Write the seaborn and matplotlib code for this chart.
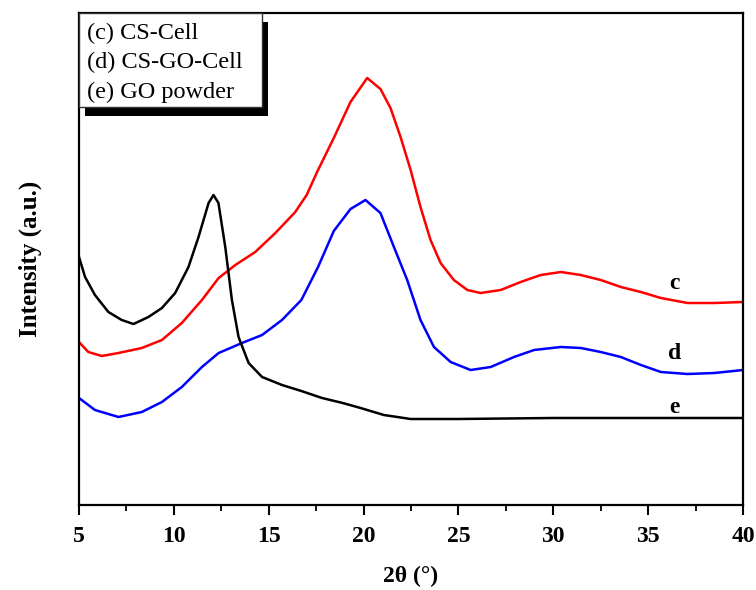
import numpy as np
import pandas as pd
import matplotlib
matplotlib.use("Agg")
import matplotlib.pyplot as plt
from matplotlib.patches import Rectangle
from matplotlib.ticker import MultipleLocator
import seaborn as sns

# ---- data (2theta in degrees, intensity in a.u.) ----
theta_c = [5.0, 5.49, 6.2, 7.08, 8.31, 9.37, 10.42, 11.48, 12.36, 13.24, 14.29,
           15.35, 16.4, 17.0, 17.55, 18.43, 19.31, 20.19, 20.89, 21.42,
           21.95, 22.48, 23.0, 23.53, 24.06, 24.76, 25.47, 26.17, 27.23, 28.28,
           29.34, 30.4, 31.45, 32.5, 33.56, 34.62, 35.67, 37.08, 38.49, 40.0]
int_c = [163, 153, 149, 152, 157, 165, 182, 205, 227, 240, 253,
         272, 293, 310, 333, 367, 403, 427, 416, 397,
         368, 335, 298, 265, 242, 225, 215, 212, 215, 223,
         230, 233, 230, 225, 218, 213, 207, 202, 202, 203]

theta_d = [5.0, 5.84, 7.08, 8.31, 9.37, 10.42, 11.48, 12.36, 13.59, 14.65, 15.7,
           16.72, 17.6, 18.43, 19.31, 20.1, 20.89, 21.6, 22.3, 23.0, 23.71,
           24.59, 25.64, 26.7, 27.93, 28.99, 30.4, 31.45, 32.5, 33.56, 34.62,
           35.67, 37.08, 38.49, 40.0]
int_d = [107, 95, 88, 93, 103, 118, 138, 152, 162, 170, 185,
         205, 238, 274, 296, 305, 292, 258, 225, 185, 158,
         143, 135, 138, 148, 155, 158, 157, 153, 148, 140,
         133, 131, 132, 135]

theta_e = [5.0, 5.32, 5.84, 6.55, 7.25, 7.87, 8.66, 9.37, 10.07, 10.77, 11.3,
           11.83, 12.09, 12.35, 12.71, 13.06, 13.41, 13.94, 14.65, 15.7, 16.72,
           17.81, 18.9, 19.84, 21.07, 22.48, 25.0, 30.0, 35.0, 40.0]
int_e = [248, 228, 210, 193, 185, 181, 188, 197, 212, 238, 268,
         302, 310, 302, 258, 205, 168, 142, 128, 120, 114,
         107, 102, 97, 90, 86, 86, 87, 87, 87]

legend_labels = ["(c) CS-Cell", "(d) CS-GO-Cell", "(e) GO powder"]
curve_tags = ["c", "d", "e"]
tag_theta = 36.4
tag_int = [222, 152, 98]
colors = ["#ff0000", "#0000ff", "#000000"]

x_ticks = [5, 10, 15, 20, 25, 30, 35, 40]

# ---- figure ----
sns.set_theme(style="ticks")
plt.rcParams["font.family"] = ["Liberation Serif", "DejaVu Serif"]
plt.rcParams["text.color"] = "black"
plt.rcParams["axes.labelcolor"] = "black"
plt.rcParams["xtick.color"] = "black"
plt.rcParams["ytick.color"] = "black"

fig = plt.figure(figsize=(7.56, 5.90), dpi=100)
ax = fig.add_axes([79 / 756, 1 - 505 / 590, 664 / 756, 492 / 590])

series = [(theta_c, int_c), (theta_d, int_d), (theta_e, int_e)]
for (tx, ty), col in zip(series, colors):
    df = pd.DataFrame({"theta": tx, "intensity": ty})
    sns.lineplot(data=df, x="theta", y="intensity", color=col, lw=1.8,
                 ax=ax, sort=False, estimator=None)

ax.set_xlim(5, 40)
ax.set_ylim(0, 492)
ax.set_xticks(x_ticks)
ax.set_xticklabels([str(t) for t in x_ticks], fontsize=17, fontweight="bold",
                   color="black")
ax.xaxis.set_minor_locator(MultipleLocator(2.5))
ax.set_yticks([])
ax.tick_params(axis="x", which="major", direction="out", length=7, width=1.5,
               pad=8, color="black")
ax.tick_params(axis="x", which="minor", direction="out", length=4.5, width=1.3,
               color="black")
for s in ax.spines.values():
    s.set_linewidth(1.6)
    s.set_color("black")

ax.set_xlabel("2θ (°)", fontsize=17, fontweight="bold", labelpad=14,
              color="black")
ax.set_ylabel("Intensity (a.u.)", fontsize=18, fontweight="bold", labelpad=27,
              color="black")

# curve tags
for tag, yv in zip(curve_tags, tag_int):
    ax.text(tag_theta, yv, tag, fontsize=17, fontweight="bold",
            ha="center", va="center", color="black")

# legend box with hard black shadow
bx0, bx1 = 0.0, (262 - 79) / 664
by0, by1 = (505 - 107) / 492, 1.0
dx, dy = 6 / 664, 9 / 492
ax.add_patch(Rectangle((bx0 + dx, by0 - dy), bx1 - bx0, by1 - by0,
                       transform=ax.transAxes, facecolor="black",
                       edgecolor="none", zorder=5, clip_on=False))
ax.add_patch(Rectangle((bx0, by0), bx1 - bx0, by1 - by0,
                       transform=ax.transAxes, facecolor="white",
                       edgecolor="#333333", lw=1.0, zorder=6, clip_on=False))
for i, lab in enumerate(legend_labels):
    ypx = 33 + i * 29.5
    ax.text((87 - 79) / 664, (505 - ypx) / 492, lab, transform=ax.transAxes,
            fontsize=17.5, ha="left", va="center", color="black", zorder=7)

fig.savefig("out.png", dpi=100)
